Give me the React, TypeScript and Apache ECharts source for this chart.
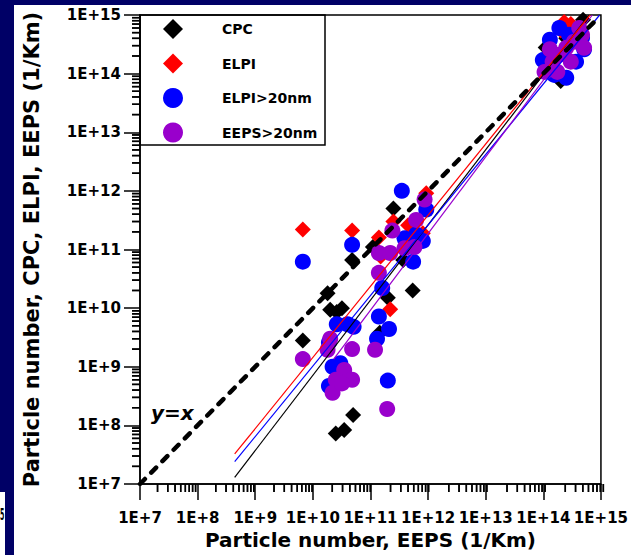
import React, { useEffect, useRef } from "react";
import * as echarts from "echarts";

const FONT = "DejaVu Sans";

const xTickLabels = ["1E+7", "1E+8", "1E+9", "1E+10", "1E+11", "1E+12", "1E+13", "1E+14", "1E+15"];
const decades = [7, 8, 9, 10, 11, 12, 13, 14];
const minorMantissas = [2, 3, 4, 5, 6, 7, 8, 9];

const legendNames = ["CPC", "ELPI", "ELPI>20nm", "EEPS>20nm"];

const cpcData = [
  [6.7e9, 2.8e9], [4.8e10, 6.6e10], [1.1e11, 1.1e11], [2.5e11, 5.0e11], [1.8e10, 1.8e10],
  [2.0e10, 9.4e9], [3.2e10, 1.0e10], [2.6e10, 8.6e9], [2.0e11, 1.5e10], [5.4e11, 2.0e10],
  [1.45e11, 3.8e9], [3.7e11, 6.6e10], [5.0e10, 1.5e8], [2.5e10, 7.3e7], [3.5e10, 8.3e7],
  [1.1e14, 2.8e14], [2.0e14, 7.5e13], [4.9e14, 8.3e14], [2.5e14, 4.0e14], [3.5e14, 6.0e14],
];

const elpiData = [
  [6.7e9, 2.2e11], [4.8e10, 2.1e11], [1.4e11, 1.6e11], [2.5e11, 3.0e11], [9.3e11, 9.1e11],
  [2.2e11, 9.6e9], [1.5e11, 7.6e10], [4.5e11, 2.6e11], [8.1e11, 1.9e11],
  [2.3e14, 7.6e14], [3.0e14, 7.0e14], [2.0e14, 5.5e14], [2.6e14, 4.5e14], [1.2e14, 1.7e14],
];

const elpi20Data = [
  [6.7e9, 6.2e10], [4.8e10, 1.2e11], [3.5e11, 1.0e12], [5.5e11, 6.2e10], [1.6e11, 2.2e10],
  [1.4e11, 7.2e9], [2.1e11, 4.4e9], [1.3e11, 3.0e9], [2.6e10, 5.3e9], [4.0e10, 5.3e9],
  [5.1e10, 4.8e9], [1.9e10, 2.6e9], [2.2e10, 1.0e9], [3.0e10, 1.15e9], [1.9e10, 4.7e8],
  [2.0e11, 5.8e8], [9.3e11, 4.8e11], [6.2e11, 1.8e11], [3.9e11, 1.55e11], [8.1e11, 1.4e11],
  [1.3e14, 3.8e14], [2.8e14, 4.6e14], [5.1e14, 2.6e14], [4.7e14, 4.1e14], [1.55e14, 9.5e13],
  [2.5e14, 8.5e13], [9.8e13, 1.7e14], [3.7e14, 1.6e14], [1.9e14, 6.0e14],
];

const eeps20Data = [
  [6.7e9, 1.35e9], [2.0e10, 3.0e9], [1.8e10, 1.95e9], [4.8e10, 2.0e9], [1.2e11, 1.95e9],
  [3.5e10, 8.8e8], [2.5e10, 6.0e8], [4.8e10, 6.0e8], [2.2e10, 3.6e8], [3.2e10, 5.2e8],
  [1.95e11, 1.9e8], [1.4e11, 4.0e10], [2.4e11, 2.1e11], [1.4e11, 8.7e10], [2.2e11, 8.7e10],
  [3.9e11, 1.05e11], [5.8e11, 1.1e11], [6.2e11, 3.2e11], [8.7e11, 7.1e11],
  [1.05e14, 1.07e14], [1.45e14, 1.6e14], [1.9e14, 2.1e14], [2.5e14, 2.75e14], [3.4e14, 3.5e14],
  [4.7e14, 4.6e14], [1.3e14, 2.6e14], [3.0e14, 1.6e14], [5.1e14, 2.75e14], [1.75e14, 1.07e14],
  [4.2e14, 6.0e14],
];

const identityLine = [[1e7, 1e7], [8.5e14, 8.5e14]];
const cpcFit = [[4.4e8, 1.3e7], [6.2e14, 1e15]];
const elpiFit = [[4.4e8, 3.25e7], [6.5e14, 1e15]];
const elpi20Fit = [[4.4e8, 2.4e7], [9.5e14, 1e15]];
const eeps20Fit = [[2.3e10, 1.35e9], [7.1e14, 1e15]];

const colors = { cpc: "#000000", elpi: "#ff0000", elpi20: "#0000ff", eeps20: "#9900cc" };

export default function App() {
  const ref = useRef<HTMLDivElement>(null);
  useEffect(() => {
    if (!ref.current) return;
    const chart = echarts.init(ref.current, null, { renderer: "svg" });
    const minorTicks: number[] = [];
    decades.forEach((d) => minorMantissas.forEach((m) => minorTicks.push(m * Math.pow(10, d))));
    const labelFmt = (v: number) => xTickLabels[Math.round(Math.log10(v)) - 7] ?? "";
    const grid = { left: 140, right: 25, top: 15, bottom: 71, show: true, borderColor: "#000", borderWidth: 1.5 };
    const axisCommon = {
      type: "log" as const,
      logBase: 10,
      min: 1e7,
      max: 1e15,
      splitNumber: 8,
      splitLine: { show: false },
      axisLine: { lineStyle: { color: "#000", width: 1.5 } },
      axisTick: { length: 16, lineStyle: { color: "#000", width: 1.5 } },
    };

    // Pass 1: bare axes with the same grid, used only to read the axis scales.
    const tickShapes: { x1: number; y1: number; x2: number; y2: number }[] = [];
    try {
      chart.setOption({
        animation: false,
        grid,
        xAxis: { ...axisCommon },
        yAxis: { ...axisCommon },
        series: [{ type: "scatter", data: [[1e9, 1e9]] }],
      });
      const x0 = chart.convertToPixel({ xAxisIndex: 0 }, 1e7) as number;
      const y0 = chart.convertToPixel({ yAxisIndex: 0 }, 1e7) as number;
      minorTicks.forEach((v) => {
        const px = chart.convertToPixel({ xAxisIndex: 0 }, v) as number;
        const py = chart.convertToPixel({ yAxisIndex: 0 }, v) as number;
        if (isFinite(px)) tickShapes.push({ x1: px, y1: y0, x2: px, y2: y0 + 8 });
        if (isFinite(py)) tickShapes.push({ x1: x0, y1: py, x2: x0 - 8, y2: py });
      });
    } catch (e) {
      // minor ticks are optional
    }
    const tickLines = tickShapes.map((shape) => ({
      type: "line", shape, style: { stroke: "#000", lineWidth: 1.5 }, z: 12,
    }));

    const scatter = (name: string, data: number[][], symbol: string, color: string, z: number) => ({
      name, type: "scatter", data, symbol, symbolSize: 16, itemStyle: { color, opacity: 1 }, z,
    });
    const fit = (name: string, data: number[][], color: string) => ({
      name: name + "-fit", type: "line", data, symbol: "none", z: 10,
      lineStyle: { color, width: 1.2 },
    });
    const baseGraphics: any[] = [
      { type: "rect", shape: { x: 0, y: 0, width: 631, height: 5 }, style: { fill: "#000066" }, z: 100 },
      { type: "rect", shape: { x: 0, y: 0, width: 14, height: 555 }, style: { fill: "#000066" }, z: 100 },
      { type: "rect", shape: { x: 0, y: 492, width: 5, height: 63 }, style: { fill: "#ffffff" }, z: 101 },
      { type: "text", x: 0, y: 515, scaleX: 0.42, style: { text: "5", x: 0, y: 0, font: "bold 15px DejaVu Sans", fill: "#000", textVerticalAlign: "middle" }, z: 102 },
      { type: "rect", shape: { x: 140, y: 15, width: 185, height: 130 }, style: { fill: "none", stroke: "#000", lineWidth: 1.5 }, z: 5 },
      { type: "text", style: { text: "y=x", x: 151, y: 413, font: "italic bold 20px DejaVu Sans", fill: "#000", textVerticalAlign: "middle" }, z: 20 },
    ];
    const nameStyle = { fontFamily: FONT, fontWeight: "bold" as const, color: "#000" };

    // Pass 2: the full chart, rendered fresh.
    chart.setOption({
      animation: false,
      backgroundColor: "#ffffff",
      grid,
      xAxis: {
        ...axisCommon,
        nameLocation: "middle",
        name: "Particle number, EEPS (1/Km)",
        nameGap: 46,
        nameTextStyle: { ...nameStyle, fontSize: 20 },
        axisLabel: { formatter: labelFmt, margin: 26, fontFamily: FONT, fontWeight: "bold", fontSize: 15, color: "#000" },
      },
      yAxis: {
        ...axisCommon,
        nameLocation: "middle",
        name: "Particle number, CPC, ELPI, EEPS (1/Km)",
        nameGap: 98,
        nameTextStyle: { ...nameStyle, fontSize: 21 },
        axisLabel: { formatter: labelFmt, margin: 19, fontFamily: FONT, fontWeight: "bold", fontSize: 15, color: "#000" },
      },
      legend: {
        orient: "vertical", left: 163, top: 19, padding: 0, itemWidth: 20, itemHeight: 20, itemGap: 14.5,
        selectedMode: false,
        data: [
          { name: legendNames[0], icon: "diamond" },
          { name: legendNames[1], icon: "diamond" },
          { name: legendNames[2], icon: "circle" },
          { name: legendNames[3], icon: "circle" },
        ],
        textStyle: { fontFamily: FONT, fontWeight: "bold", fontSize: 14, color: "#000", padding: [0, 0, 0, 34] },
      },
      graphic: [...baseGraphics, ...tickLines],
      series: [
        scatter(legendNames[0], cpcData, "diamond", colors.cpc, 2),
        scatter(legendNames[1], elpiData, "diamond", colors.elpi, 3),
        scatter(legendNames[2], elpi20Data, "circle", colors.elpi20, 4),
        scatter(legendNames[3], eeps20Data, "circle", colors.eeps20, 5),
        {
          name: "y=x", type: "line", data: identityLine, symbol: "none", z: 11,
          lineStyle: { color: "#000", width: 4.5, type: [7, 9], cap: "round" },
        },
        fit("cpc", cpcFit, colors.cpc),
        fit("elpi", elpiFit, colors.elpi),
        fit("elpi20", elpi20Fit, colors.elpi20),
        fit("eeps20", eeps20Fit, colors.eeps20),
      ],
    }, { notMerge: true });

    // Independent path for the minor ticks, added straight to the renderer.
    try {
      const zr = chart.getZr();
      tickShapes.forEach((shape) => {
        zr.add(new (echarts.graphic as any).Line({ shape, style: { stroke: "#000", lineWidth: 1.5 }, z: 50 }));
      });
      const anyZr = zr as any;
      if (typeof anyZr.refreshImmediately === "function") anyZr.refreshImmediately();
      else zr.refresh();
    } catch (e) {
      // ignore
    }
    return () => chart.dispose();
  }, []);
  return <div ref={ref} style={{ position: "absolute", left: 0, top: 0, width: 631, height: 555 }} />;
}
